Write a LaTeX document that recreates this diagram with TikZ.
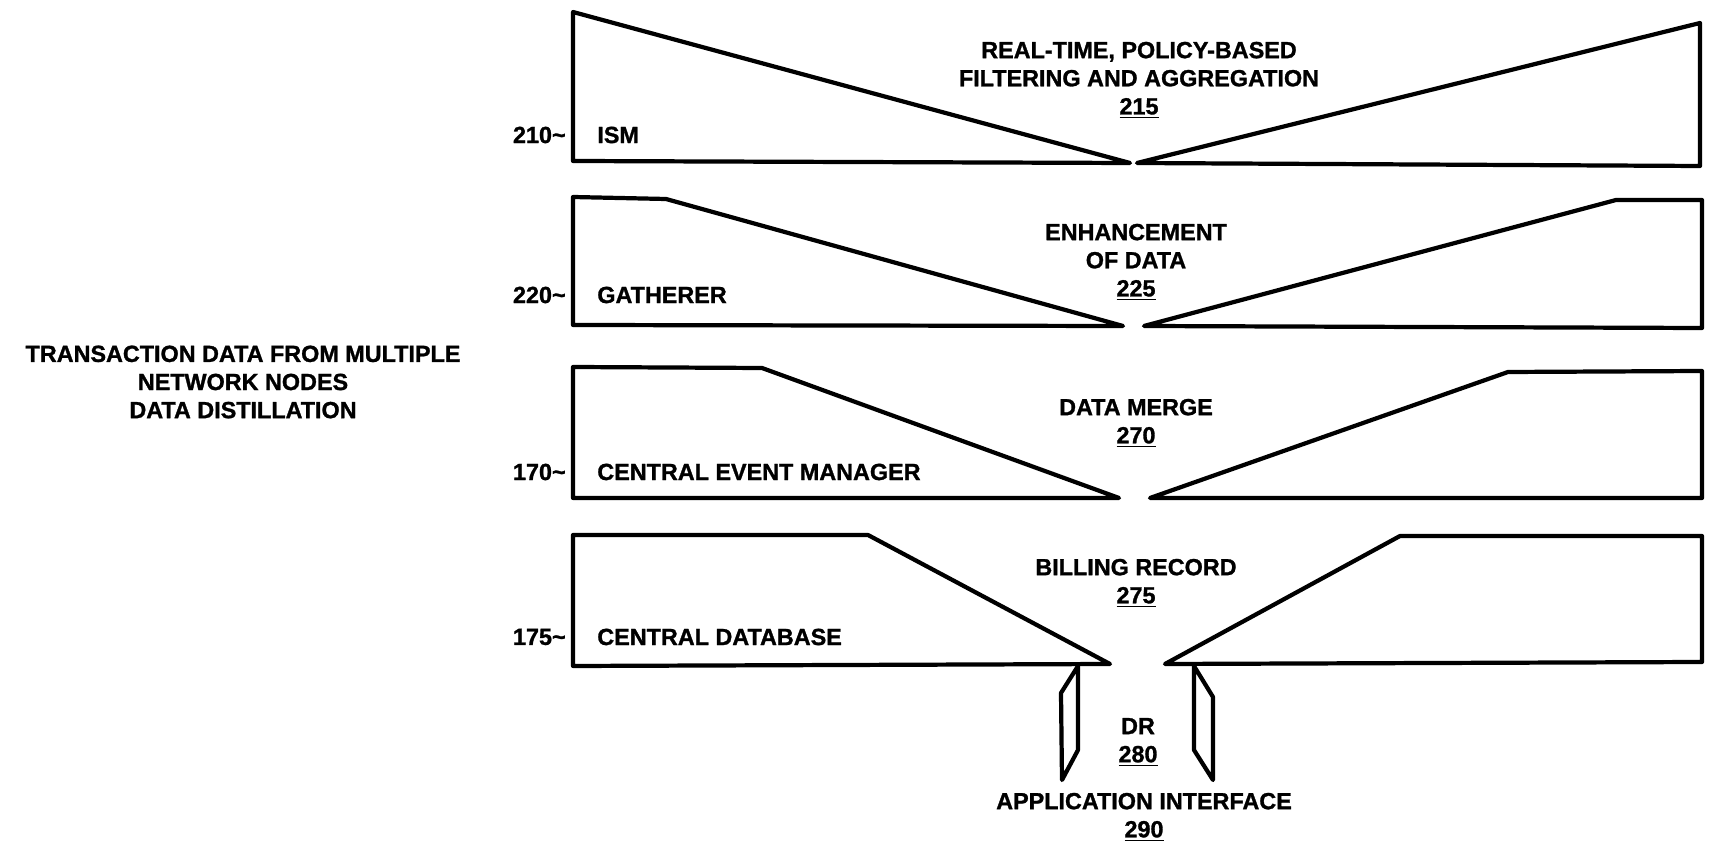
\documentclass[tikz,border=0pt]{standalone}
\usepackage{fontspec}
\setmainfont{Liberation Sans}[BoldFeatures={FakeBold=1.2}]
\usetikzlibrary{positioning}
\tikzset{funnel/.style={line width=2.4pt, line join=round}}
\tikzset{refnum/.style={anchor=east}, tag/.style={anchor=west}}

\begin{document}
\begin{tikzpicture}[x=0.02cm, y=-0.02cm]
		\useasboundingbox (0,0) rectangle (1712,854);

		% the four funnels, left half and right half
		\draw[funnel] (573,12) -- (573,161) -- (1130,163) -- cycle;
		\draw[funnel] (1137,163) -- (1700,23) -- (1700,166) -- cycle;
		\draw[funnel] (573,197) -- (573,325) -- (1123,326) -- (666,199) -- cycle;
		\draw[funnel] (1144,326) -- (1616,200) -- (1702,200) -- (1702,328) -- cycle;
		\draw[funnel] (573,367) -- (573,498) -- (1119,498) -- (762,368) -- cycle;
		\draw[funnel] (1150,498) -- (1508,372) -- (1702,371) -- (1702,498) -- cycle;
		\draw[funnel] (573,535) -- (573,666) -- (1110,664) -- (868,535) -- cycle;
		\draw[funnel] (1165,664) -- (1400,536) -- (1702,536) -- (1702,662) -- cycle;

		% outlets to the DR
		\draw[funnel] (1078,666) -- (1078,750) -- (1062,780) -- (1061,693) -- cycle;
		\draw[funnel] (1194,666) -- (1194,750) -- (1213,780) -- (1213,697) -- cycle;

		\begin{scope}[every node/.append style={font=\bfseries\fontsize{13.3}{16}\selectfont, inner sep=0pt, align=center}]
			\node (src) at (243,382) {TRANSACTION DATA FROM MULTIPLE\\NETWORK NODES\\DATA DISTILLATION};

			\node[refnum] (n210) at (566,135) {210\textasciitilde};
			\node[tag] (ism) at (597,135) {ISM};
			\node (f215) at (1139,80) {REAL-TIME, POLICY-BASED\\FILTERING AND AGGREGATION\\\underline{215}};

			\node[refnum] (n220) at (566,295) {220\textasciitilde};
			\node[tag] (gatherer) at (597,295) {GATHERER};
			\node (f225) at (1136,262) {ENHANCEMENT\\OF DATA\\\underline{225}};

			\node[refnum] (n170) at (566,472) {170\textasciitilde};
			\node[tag] (cem) at (597,472) {CENTRAL EVENT MANAGER};
			\node (f270) at (1136,423) {DATA MERGE\\\underline{270}};

			\node[refnum] (n175) at (566,637) {175\textasciitilde};
			\node[tag] (cdb) at (597,637) {CENTRAL DATABASE};
			\node (f275) at (1136,583) {BILLING RECORD\\\underline{275}};

			\node (dr) at (1138,742) {DR\\\underline{280}};
			\node (api) at (1144,817) {APPLICATION INTERFACE\\\underline{290}};
		\end{scope}
	\end{tikzpicture}
\end{document}
